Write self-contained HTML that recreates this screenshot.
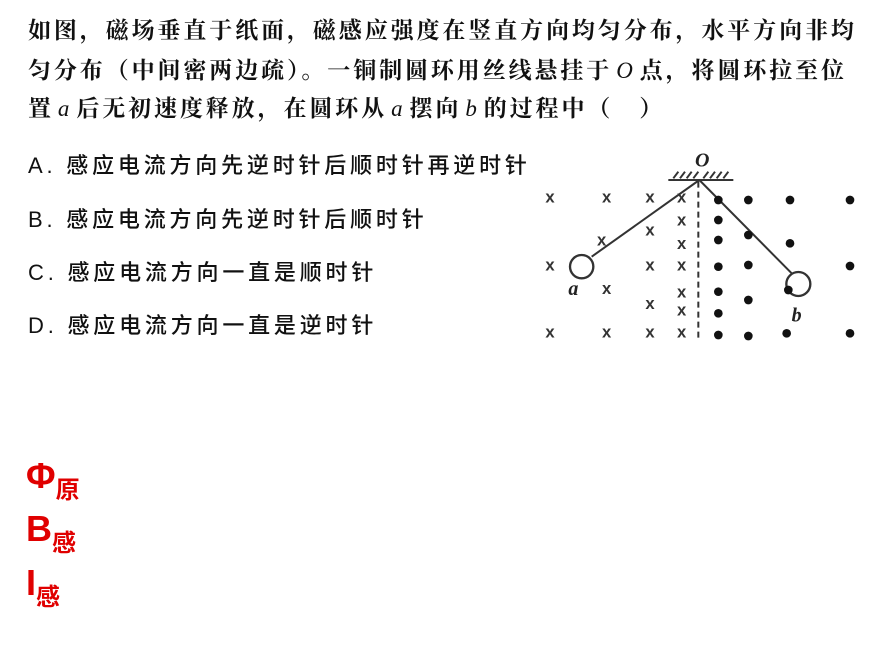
<!DOCTYPE html>
<html><head><meta charset="utf-8"><style>
body{margin:0;width:891px;height:664px;background:#fff;position:relative;overflow:hidden;font-family:"Liberation Serif","Noto Serif CJK SC",serif;color:#111}
.l{position:absolute;left:28px;font-size:23px;letter-spacing:2.9px;white-space:nowrap;font-weight:bold}
.o{position:absolute;left:28px;font-size:22px;white-space:nowrap;font-family:"Liberation Sans","Noto Sans CJK SC",sans-serif;letter-spacing:3.8px;font-weight:500}
.r{position:absolute;left:26px;color:#e00000;font-weight:bold;font-family:"Liberation Sans","Noto Sans CJK SC",sans-serif;font-size:36px}
.r sub{font-size:24px;vertical-align:-10px}
i{font-family:"Liberation Serif",serif;font-weight:normal;margin:0 4px}
</style></head><body>
<div class="l" style="top:12px">如图，磁场垂直于纸面，磁感应强度在竖直方向均匀分布，水平方向非均</div>
<div class="l" style="top:52px">匀分布（中间密两边疏）。一铜制圆环用丝线悬挂于<i>O</i>点，将圆环拉至位</div>
<div class="l" style="top:90px">置<i>a</i>后无初速度释放，在圆环从<i>a</i>摆向<i>b</i>的过程中（&nbsp;&nbsp;&nbsp;）</div>
<div class="o" style="top:148px">A. 感应电流方向先逆时针后顺时针再逆时针</div>
<div class="o" style="top:202px">B. 感应电流方向先逆时针后顺时针</div>
<div class="o" style="top:255px">C. 感应电流方向一直是顺时针</div>
<div class="o" style="top:308px">D. 感应电流方向一直是逆时针</div>
<div class="r" style="top:455px">Φ<sub>原</sub></div>
<div class="r" style="top:508px">B<sub>感</sub></div>
<div class="r" style="top:562px">I<sub>感</sub></div>
<svg style="position:absolute;left:530px;top:140px" width="340" height="210" viewBox="0 0 1020 630">
<g stroke="#333" stroke-width="6" fill="none">
<line x1="415" y1="120" x2="610" y2="120"/>
<path d="M430 115 l15 -20 M450 115 l15 -20 M470 115 l15 -20 M490 115 l15 -20 M520 115 l15 -20 M540 115 l15 -20 M560 115 l15 -20 M580 115 l15 -20"/>
<line x1="505" y1="125" x2="505" y2="600" stroke-dasharray="18,12"/>
<line x1="508" y1="120" x2="185" y2="350"/>
<line x1="508" y1="120" x2="785" y2="400"/>
<circle cx="155" cy="380" r="35" stroke-width="7"/>
<circle cx="805" cy="432" r="36" stroke-width="7"/>
</g>
<g font-family="Liberation Sans,sans-serif" font-size="50" font-weight="bold" fill="#333" text-anchor="middle">
<text x="60" y="187">x</text><text x="230" y="187">x</text><text x="360" y="187">x</text><text x="455" y="187">x</text>
<text x="215" y="317">x</text><text x="360" y="287">x</text><text x="455" y="257">x</text><text x="455" y="327">x</text>
<text x="60" y="392">x</text><text x="360" y="392">x</text><text x="455" y="392">x</text>
<text x="230" y="462">x</text><text x="360" y="507">x</text><text x="455" y="472">x</text><text x="455" y="527">x</text>
<text x="60" y="592">x</text><text x="230" y="592">x</text><text x="360" y="592">x</text><text x="455" y="592">x</text>
</g>
<g fill="#111">
<circle cx="565" cy="180" r="13"/><circle cx="655" cy="180" r="13"/><circle cx="780" cy="180" r="13"/><circle cx="960" cy="180" r="13"/>
<circle cx="565" cy="240" r="13"/><circle cx="655" cy="285" r="13"/><circle cx="780" cy="310" r="13"/><circle cx="565" cy="300" r="13"/>
<circle cx="565" cy="380" r="13"/><circle cx="655" cy="375" r="13"/><circle cx="960" cy="378" r="13"/><circle cx="775" cy="450" r="13"/>
<circle cx="565" cy="455" r="13"/><circle cx="655" cy="480" r="13"/><circle cx="565" cy="520" r="13"/>
<circle cx="565" cy="585" r="13"/><circle cx="655" cy="588" r="13"/><circle cx="770" cy="580" r="13"/><circle cx="960" cy="580" r="13"/>
</g>
<g font-family="Liberation Serif,serif" font-style="italic" font-weight="bold" font-size="60" fill="#222">
<text x="495" y="80">O</text><text x="115" y="465">a</text><text x="785" y="545">b</text>
</g>
</svg>
</body></html>
